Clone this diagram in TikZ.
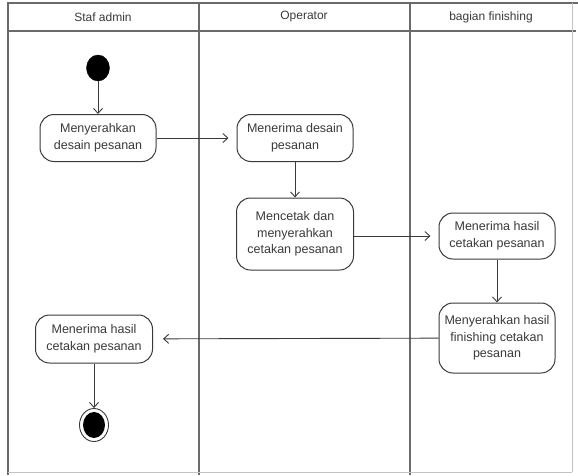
\documentclass[tikz,border=0pt]{standalone}
\usepackage{fontspec}
\setmainfont{Liberation Sans}
\usetikzlibrary{arrows.meta,shapes.geometric}
\definecolor{lanegray}{HTML}{6A6A6A}
\definecolor{inkgray}{HTML}{3A3A3A}
\tikzset{
  lane/.style={draw=lanegray, line width=1.1pt},
  action/.style={draw=inkgray, line width=1pt, rounded corners=14pt,
    align=center, inner sep=2pt, font=\fontsize{12.5}{16.5}\selectfont,
    text=inkgray},
  flow/.style={draw=inkgray, line width=0.9pt,
    -{Straight Barb[length=5pt,width=9pt,line width=0.9pt]}},
  lanehead/.style={font=\fontsize{12}{14}\selectfont, text=inkgray}
}
\begin{document}
\begin{tikzpicture}[x=1pt,y=-1pt]
\useasboundingbox (0,0) rectangle (578,475);
\fill[white] (0,0) rectangle (578,475);

% swimlane frame
\draw[lane] (8,475) -- (8,3) -- (578,3);
\draw[lane] (8,31) -- (576,31);
\draw[lane] (199,3) -- (199,475);
\draw[lane] (410,3) -- (410,475);
\draw[lanegray!40, line width=0.8pt] (572,3) -- (572,472);
\draw[lanegray!40, line width=0.8pt] (8,472) -- (572,472);

% lane titles
\node[lanehead] (h1) at (103,17) {Staf admin};
\node[lanehead] (h2) at (304,17) {Operator};
\node[lanehead] (h3) at (491,17) {bagian finishing};

% start and end
\node[draw=black, fill=black, ellipse, minimum width=23pt, minimum height=26pt, inner sep=0pt] (start) at (98,68) {};
\node[draw=inkgray, line width=0.9pt, ellipse, minimum width=29pt, minimum height=33pt, inner sep=0pt] (end) at (94,425) {};
\fill[black] (end.center) ellipse [x radius=11pt, y radius=13pt];

% actions
\node[action, minimum width=116pt, minimum height=47pt] (a1) at (98,138) {Menyerahkan\\desain pesanan};
\node[action, minimum width=116pt, minimum height=47pt] (b1) at (295,138) {Menerima desain\\pesanan};
\node[action, minimum width=117pt, minimum height=72pt] (b2) at (295,234) {Mencetak dan\\menyerahkan\\cetakan pesanan};
\node[action, minimum width=116pt, minimum height=46pt] (c1) at (497,236) {Menerima hasil\\cetakan pesanan};
\node[action, minimum width=116pt, minimum height=70pt] (c2) at (497,338) {Menyerahkan hasil\\finishing cetakan\\pesanan};
\node[action, minimum width=117pt, minimum height=48pt] (a2) at (94,339) {Menerima hasil\\cetakan pesanan};

% control flow
\draw[flow] (start) -- (a1);
\draw[flow, shorten >=8pt] (a1) -- (b1);
\draw[flow] (b1) -- (b2);
\draw[flow, shorten >=8pt] (b2.east |- c1.west) -- (c1.west);
\draw[flow] (c1) -- (c2);
\draw[flow, shorten >=10pt] (c2) -- (a2);
\draw[flow] (a2) -- (end);
\end{tikzpicture}
\end{document}
